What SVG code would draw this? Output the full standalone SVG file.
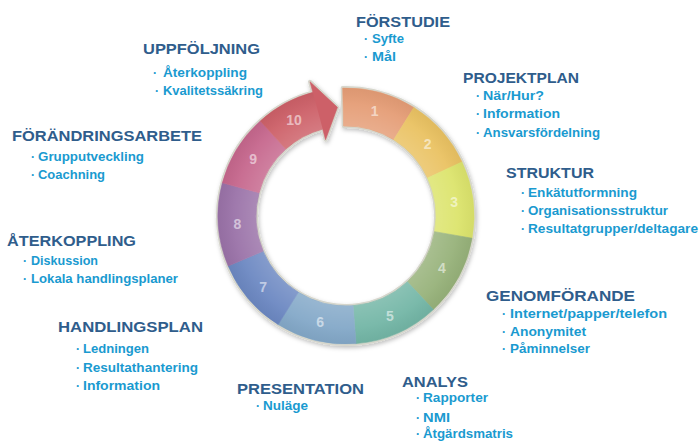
<svg xmlns="http://www.w3.org/2000/svg" width="700" height="441" viewBox="0 0 700 441">
<style>
.h{font-family:"Liberation Sans",Arial,sans-serif;font-weight:bold;font-size:15px;fill:#2F5D8C}
.i{font-family:"Liberation Sans",Arial,sans-serif;font-weight:bold;font-size:12px;fill:#1A9AD0}
.b{font-family:"Liberation Sans",Arial,sans-serif;font-weight:bold;font-size:12px;fill:#1A9AD0;text-anchor:middle}
.n{font-family:"Liberation Sans",Arial,sans-serif;font-weight:bold;font-size:14px;fill:#ffffff;fill-opacity:0.55;text-anchor:middle}
.seg{stroke-width:0.6}
</style>
<defs>
<filter id="sh" x="-10%" y="-10%" width="130%" height="130%">
<feDropShadow dx="1" dy="2" stdDeviation="2" flood-color="#000" flood-opacity="0.25"/>
</filter>
<radialGradient id="gloss" cx="346" cy="216" r="140" gradientUnits="userSpaceOnUse">
<stop offset="0.62" stop-color="#fff" stop-opacity="0.18"/>
<stop offset="0.8" stop-color="#fff" stop-opacity="0.05"/>
<stop offset="0.92" stop-color="#000" stop-opacity="0.04"/>
</radialGradient>
</defs>
<rect width="700" height="441" fill="#ffffff"/>

<g id="ring">
<path filter="url(#sh)" fill="#dcdcd4" stroke="#d6d6cc" stroke-width="4" stroke-linejoin="round" d="M342.65,88.04 A128,128 0 1 1 312.87,92.36 L310.02,81.74 L337.45,107.34 L325.55,139.69 L322.71,129.07 A90,90 0 1 0 343.64,126.03 Z"/>
<g id="seg1"><path class="seg" fill="#E59D76" stroke="#E59D76" d="M342.65,88.04 A128,128 0 0 1 413.83,107.45 L393.69,139.68 A90,90 0 0 0 343.64,126.03 Z"/><text class="n" x="374.7" y="115.8">1</text></g>
<g id="seg2"><path class="seg" fill="#EAC262" stroke="#EAC262" d="M413.83,107.45 A128,128 0 0 1 462.01,161.90 L427.57,177.96 A90,90 0 0 0 393.69,139.68 Z"/><text class="n" x="427.6" y="148.8">2</text></g>
<g id="seg3"><path class="seg" fill="#DCE46C" stroke="#DCE46C" d="M462.01,161.90 A128,128 0 0 1 472.06,238.23 L434.63,231.63 A90,90 0 0 0 427.57,177.96 Z"/><text class="n" x="454.1" y="206.8">3</text></g>
<g id="seg4"><path class="seg" fill="#97B27A" stroke="#97B27A" d="M472.06,238.23 A128,128 0 0 1 433.30,309.61 L407.38,281.82 A90,90 0 0 0 434.63,231.63 Z"/><text class="n" x="441.8" y="273.0">4</text></g>
<g id="seg5"><path class="seg" fill="#73B6A6" stroke="#73B6A6" d="M433.30,309.61 A128,128 0 0 1 356.04,343.61 L353.06,305.72 A90,90 0 0 0 407.38,281.82 Z"/><text class="n" x="389.9" y="320.8">5</text></g>
<g id="seg6"><path class="seg" fill="#83A8C8" stroke="#83A8C8" d="M356.04,343.61 A128,128 0 0 1 278.17,324.55 L298.31,292.32 A90,90 0 0 0 353.06,305.72 Z"/><text class="n" x="320.1" y="326.9">6</text></g>
<g id="seg7"><path class="seg" fill="#6C88C2" stroke="#6C88C2" d="M278.17,324.55 A128,128 0 0 1 228.18,266.01 L263.15,251.17 A90,90 0 0 0 298.31,292.32 Z"/><text class="n" x="263.1" y="291.8">7</text></g>
<g id="seg8"><path class="seg" fill="#9A72A8" stroke="#9A72A8" d="M228.18,266.01 A128,128 0 0 1 222.36,182.87 L259.07,192.71 A90,90 0 0 0 263.15,251.17 Z"/><text class="n" x="237.3" y="228.6">8</text></g>
<g id="seg9"><path class="seg" fill="#C6678D" stroke="#C6678D" d="M222.36,182.87 A128,128 0 0 1 260.35,120.88 L285.78,149.12 A90,90 0 0 0 259.07,192.71 Z"/><text class="n" x="253.1" y="164.0">9</text></g>
<g id="seg10"><path class="seg" fill="#CD6068" stroke="#CD6068" stroke-linejoin="round" d="M260.35,120.88 A128,128 0 0 1 312.87,92.36 L310.02,81.74 L337.45,107.34 L325.55,139.69 L322.71,129.07 A90,90 0 0 0 285.78,149.12 Z"/><text class="n" x="294.0" y="125.2">10</text></g>
<path fill="url(#gloss)" d="M342.65,88.04 A128,128 0 1 1 312.87,92.36 L322.71,129.07 A90,90 0 1 0 343.64,126.03 Z"/>
</g>

<g id="forstudie">
<text class="h" x="356" y="27" textLength="94" lengthAdjust="spacingAndGlyphs">FÖRSTUDIE</text>
<text class="b" x="366" y="43">·</text><text class="i" x="372" y="43" textLength="32" lengthAdjust="spacingAndGlyphs">Syfte</text>
<text class="b" x="366" y="61">·</text><text class="i" x="372" y="61" textLength="24" lengthAdjust="spacingAndGlyphs">Mål</text>
</g>
<g id="projektplan">
<text class="h" x="463" y="83" textLength="116" lengthAdjust="spacingAndGlyphs">PROJEKTPLAN</text>
<text class="b" x="478" y="100">·</text><text class="i" x="483" y="100" textLength="61" lengthAdjust="spacingAndGlyphs">När/Hur?</text>
<text class="b" x="478" y="118">·</text><text class="i" x="483" y="118" textLength="77" lengthAdjust="spacingAndGlyphs">Information</text>
<text class="b" x="478" y="137">·</text><text class="i" x="483" y="137" textLength="117" lengthAdjust="spacingAndGlyphs">Ansvarsfördelning</text>
</g>
<g id="struktur">
<text class="h" x="506" y="178" textLength="88" lengthAdjust="spacingAndGlyphs">STRUKTUR</text>
<text class="b" x="523" y="197">·</text><text class="i" x="528" y="197" textLength="109" lengthAdjust="spacingAndGlyphs">Enkätutformning</text>
<text class="b" x="523" y="215">·</text><text class="i" x="528" y="215" textLength="140" lengthAdjust="spacingAndGlyphs">Organisationsstruktur</text>
<text class="b" x="523" y="233">·</text><text class="i" x="528" y="233" textLength="170" lengthAdjust="spacingAndGlyphs">Resultatgrupper/deltagare</text>
</g>
<g id="genomforande">
<text class="h" x="486" y="301" textLength="149" lengthAdjust="spacingAndGlyphs">GENOMFÖRANDE</text>
<text class="b" x="504" y="318">·</text><text class="i" x="510" y="318" textLength="157" lengthAdjust="spacingAndGlyphs">Internet/papper/telefon</text>
<text class="b" x="504" y="336">·</text><text class="i" x="510" y="336" textLength="76" lengthAdjust="spacingAndGlyphs">Anonymitet</text>
<text class="b" x="504" y="353">·</text><text class="i" x="510" y="353" textLength="80" lengthAdjust="spacingAndGlyphs">Påminnelser</text>
</g>
<g id="analys">
<text class="h" x="402" y="387" textLength="66" lengthAdjust="spacingAndGlyphs">ANALYS</text>
<text class="b" x="418" y="402">·</text><text class="i" x="423" y="402" textLength="65" lengthAdjust="spacingAndGlyphs">Rapporter</text>
<text class="b" x="418" y="422">·</text><text class="i" x="423" y="422" textLength="27" lengthAdjust="spacingAndGlyphs">NMI</text>
<text class="b" x="418" y="438">·</text><text class="i" x="423" y="438" textLength="90" lengthAdjust="spacingAndGlyphs">Åtgärdsmatris</text>
</g>
<g id="presentation">
<text class="h" x="237" y="394" textLength="127" lengthAdjust="spacingAndGlyphs">PRESENTATION</text>
<text class="b" x="258" y="410">·</text><text class="i" x="263" y="410" textLength="45" lengthAdjust="spacingAndGlyphs">Nuläge</text>
</g>
<g id="handlingsplan">
<text class="h" x="58" y="332" textLength="145" lengthAdjust="spacingAndGlyphs">HANDLINGSPLAN</text>
<text class="b" x="78" y="353">·</text><text class="i" x="83" y="353" textLength="66" lengthAdjust="spacingAndGlyphs">Ledningen</text>
<text class="b" x="78" y="372">·</text><text class="i" x="83" y="372" textLength="115" lengthAdjust="spacingAndGlyphs">Resultathantering</text>
<text class="b" x="78" y="390">·</text><text class="i" x="83" y="390" textLength="77" lengthAdjust="spacingAndGlyphs">Information</text>
</g>
<g id="aterkoppling">
<text class="h" x="7" y="246" textLength="129" lengthAdjust="spacingAndGlyphs">ÅTERKOPPLING</text>
<text class="b" x="25" y="265">·</text><text class="i" x="31" y="265" textLength="67" lengthAdjust="spacingAndGlyphs">Diskussion</text>
<text class="b" x="25" y="283">·</text><text class="i" x="31" y="283" textLength="147" lengthAdjust="spacingAndGlyphs">Lokala handlingsplaner</text>
</g>
<g id="forandringsarbete">
<text class="h" x="12" y="141" textLength="190" lengthAdjust="spacingAndGlyphs">FÖRÄNDRINGSARBETE</text>
<text class="b" x="33" y="161">·</text><text class="i" x="38" y="161" textLength="106" lengthAdjust="spacingAndGlyphs">Grupputveckling</text>
<text class="b" x="33" y="179">·</text><text class="i" x="38" y="179" textLength="67" lengthAdjust="spacingAndGlyphs">Coachning</text>
</g>
<g id="uppfoljning">
<text class="h" x="143" y="54" textLength="117" lengthAdjust="spacingAndGlyphs">UPPFÖLJNING</text>
<text class="b" x="155" y="77">·</text><text class="i" x="163" y="77" textLength="84" lengthAdjust="spacingAndGlyphs">Återkoppling</text>
<text class="b" x="157" y="95">·</text><text class="i" x="163" y="95" textLength="100" lengthAdjust="spacingAndGlyphs">Kvalitetssäkring</text>
</g>
</svg>
